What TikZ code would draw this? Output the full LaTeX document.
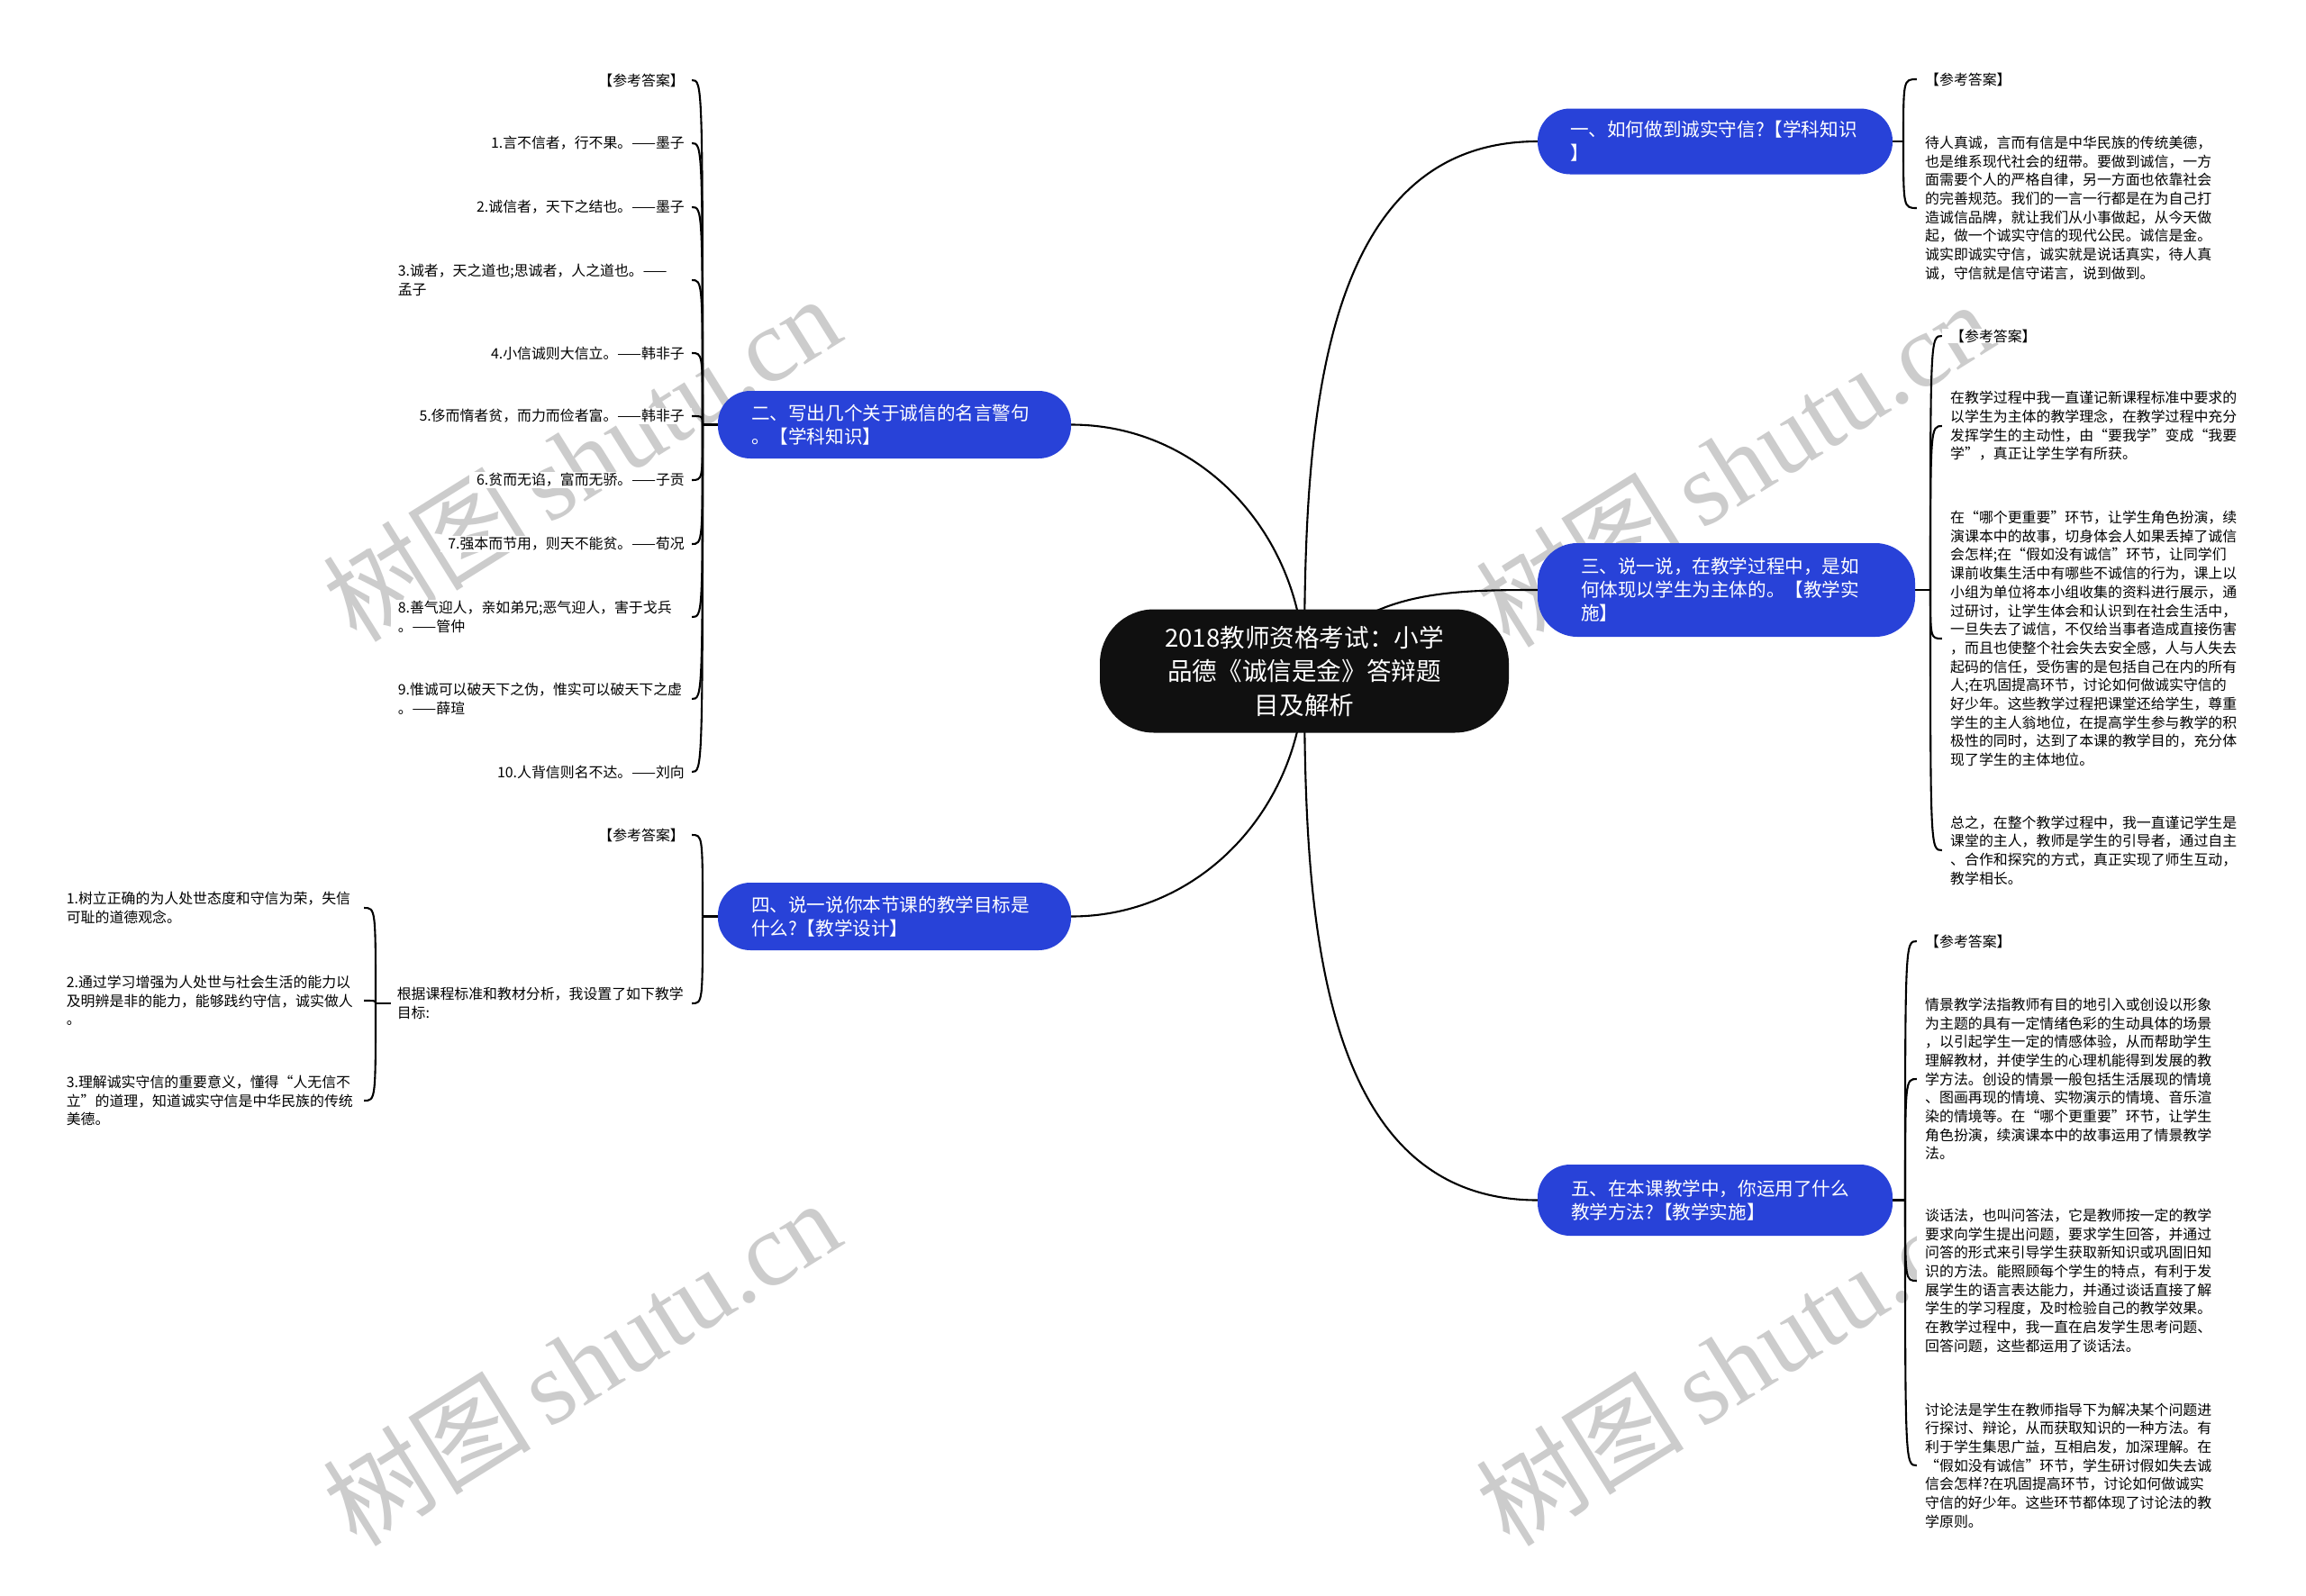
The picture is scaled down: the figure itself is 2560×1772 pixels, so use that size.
\documentclass[tikz,border=0pt]{standalone}
\usepackage{fontspec}
\setmainfont{Noto Sans CJK SC}
\newfontfamily\wmserif{Liberation Serif}
\usetikzlibrary{backgrounds}
\definecolor{bnode}{RGB}{40,66,216}
\definecolor{tnode}{RGB}{16,16,16}
\definecolor{wmgray}{RGB}{204,204,204}
\setlength{\parindent}{0pt}
\tikzset{
  conn/.style={line width=2.1pt, black},
  bkt/.style={to path={.. controls (\tikztostart|-\tikztotarget) .. (\tikztotarget)}},
  titlenode/.style={fill=tnode, text=white, rounded corners=60pt, minimum width=454pt, minimum height=137pt, text width=420pt, align=center, inner xsep=17pt, inner ysep=0pt, font=\fontsize{27.6}{37.5}\selectfont},
  branchnode/.style={fill=bnode, text=white, rounded corners=36pt, inner ysep=0pt, align=left, font=\fontsize{20.6}{26}\selectfont},
  rtxt/.style={anchor=west, fill=white, inner xsep=9pt, inner ysep=1pt, align=left, text width=330pt, font=\fontsize{15.9}{20.7}\selectfont},
  ltxt/.style={anchor=east, fill=white, inner xsep=8pt, inner ysep=1pt, font=\fontsize{15.9}{20.7}\selectfont},
  lpar/.style={ltxt, text width=318pt, align=left},
  wm/.style={text=wmgray, rotate=32, inner sep=0pt, font=\fontsize{116}{118}\selectfont}
}
\begin{document}
\begin{tikzpicture}[x=1pt,y=-1pt]
\useasboundingbox (0,0) rectangle (2560,1772);

% ---------- central node ----------
\node[titlenode] (title) at (1448,745) {2018教师资格考试：小学\\品德《诚信是金》答辩题\\目及解析};

% ---------- branch nodes ----------
\node[branchnode, minimum width=394pt, minimum height=73pt, text width=322pt, inner xsep=36pt] (n1) at (1904,157) {一、如何做到诚实守信?【学科知识\\】};
\node[branchnode, minimum width=419pt, minimum height=104pt, text width=323pt, inner xsep=48pt, rounded corners=44pt] (n3) at (1916.5,655) {三、说一说，在教学过程中，是如\\何体现以学生为主体的。【教学实\\施】};
\node[branchnode, minimum width=394pt, minimum height=79pt, text width=320pt, inner xsep=37pt] (n5) at (1904,1332.5) {五、在本课教学中，你运用了什么\\教学方法?【教学实施】};
\node[branchnode, minimum width=392pt, minimum height=75pt, text width=318pt, inner xsep=37pt] (n2) at (993,471.5) {二、写出几个关于诚信的名言警句\\。【学科知识】};
\node[branchnode, minimum width=392pt, minimum height=75pt, text width=318pt, inner xsep=37pt] (n4) at (993,1017.5) {四、说一说你本节课的教学目标是\\什么?【教学设计】};

% ---------- group 一 ----------
\coordinate (J1) at (2113,157);
\node[rtxt] (a11) at (2128,88) {【参考答案】};
\node[rtxt] (a12) at (2128,231) {待人真诚，言而有信是中华民族的传统美德，\\也是维系现代社会的纽带。要做到诚信，一方\\面需要个人的严格自律，另一方面也依靠社会\\的完善规范。我们的一言一行都是在为自己打\\造诚信品牌，就让我们从小事做起，从今天做\\起，做一个诚实守信的现代公民。诚信是金。\\诚实即诚实守信，诚实就是说话真实，待人真\\诚，守信就是信守诺言，说到做到。};

% ---------- group 三 ----------
\coordinate (J3) at (2143,655);
\node[rtxt] (b1) at (2156,373) {【参考答案】};
\node[rtxt] (b2) at (2156,473) {在教学过程中我一直谨记新课程标准中要求的\\以学生为主体的教学理念，在教学过程中充分\\发挥学生的主动性，由“要我学”变成“我要\\学”，真正让学生学有所获。};
\node[rtxt] (b3) at (2156,709) {在“哪个更重要”环节，让学生角色扮演，续\\演课本中的故事，切身体会人如果丢掉了诚信\\会怎样;在“假如没有诚信”环节，让同学们\\课前收集生活中有哪些不诚信的行为，课上以\\小组为单位将本小组收集的资料进行展示，通\\过研讨，让学生体会和认识到在社会生活中，\\一旦失去了诚信，不仅给当事者造成直接伤害\\，而且也使整个社会失去安全感，人与人失去\\起码的信任，受伤害的是包括自己在内的所有\\人;在巩固提高环节，讨论如何做诚实守信的\\好少年。这些教学过程把课堂还给学生，尊重\\学生的主人翁地位，在提高学生参与教学的积\\极性的同时，达到了本课的教学目的，充分体\\现了学生的主体地位。};
\node[rtxt] (b4) at (2156,944) {总之，在整个教学过程中，我一直谨记学生是\\课堂的主人，教师是学生的引导者，通过自主\\、合作和探究的方式，真正实现了师生互动，\\教学相长。};

% ---------- group 五 ----------
\coordinate (J5) at (2115,1332.5);
\node[rtxt] (c1) at (2128,1045) {【参考答案】};
\node[rtxt] (c2) at (2128,1198) {情景教学法指教师有目的地引入或创设以形象\\为主题的具有一定情绪色彩的生动具体的场景\\，以引起学生一定的情感体验，从而帮助学生\\理解教材，并使学生的心理机能得到发展的教\\学方法。创设的情景一般包括生活展现的情境\\、图画再现的情境、实物演示的情境、音乐渲\\染的情境等。在“哪个更重要”环节，让学生\\角色扮演，续演课本中的故事运用了情景教学\\法。};
\node[rtxt] (c3) at (2128,1422) {谈话法，也叫问答法，它是教师按一定的教学\\要求向学生提出问题，要求学生回答，并通过\\问答的形式来引导学生获取新知识或巩固旧知\\识的方法。能照顾每个学生的特点，有利于发\\展学生的语言表达能力，并通过谈话直接了解\\学生的学习程度，及时检验自己的教学效果。\\在教学过程中，我一直在启发学生思考问题、\\回答问题，这些都运用了谈话法。};
\node[rtxt] (c4) at (2128,1627) {讨论法是学生在教师指导下为解决某个问题进\\行探讨、辩论，从而获取知识的一种方法。有\\利于学生集思广益，互相启发，加深理解。在\\“假如没有诚信”环节，学生研讨假如失去诚\\信会怎样?在巩固提高环节，讨论如何做诚实\\守信的好少年。这些环节都体现了讨论法的教\\学原则。};

% ---------- group 二 ----------
\coordinate (J2) at (780,471.5);
\node[ltxt] (q0) at (768,89) {【参考答案】};
\node[ltxt] (q1) at (768,159) {1.言不信者，行不果。——墨子};
\node[ltxt] (q2) at (768,230) {2.诚信者，天下之结也。——墨子};
\node[lpar] (q3) at (768,311) {3.诚者，天之道也;思诚者，人之道也。——\\孟子};
\node[ltxt] (q4) at (768,392) {4.小信诚则大信立。——韩非子};
\node[ltxt] (q5) at (768,462) {5.侈而惰者贫，而力而俭者富。——韩非子};
\node[ltxt] (q6) at (768,533) {6.贫而无谄，富而无骄。——子贡};
\node[ltxt] (q7) at (768,604) {7.强本而节用，则天不能贫。——荀况};
\node[lpar] (q8) at (768,685) {8.善气迎人，亲如弟兄;恶气迎人，害于戈兵\\。——管仲};
\node[lpar] (q9) at (768,776) {9.惟诚可以破天下之伪，惟实可以破天下之虚\\。——薛瑄};
\node[ltxt] (q10) at (768,857) {10.人背信则名不达。——刘向};

% ---------- group 四 ----------
\coordinate (J4) at (780,1017.5);
\node[ltxt] (r0) at (768,927) {【参考答案】};
\node[lpar, text width=320pt, inner xsep=7pt] (r1) at (768,1114) {根据课程标准和教材分析，我设置了如下教学\\目标:};
\coordinate (J6) at (417,1114);
\node[lpar, text width=320pt, inner xsep=10pt] (s1) at (404,1008) {1.树立正确的为人处世态度和守信为荣，失信\\可耻的道德观念。};
\node[lpar, text width=320pt, inner xsep=10pt] (s2) at (404,1111) {2.通过学习增强为人处世与社会生活的能力以\\及明辨是非的能力，能够践约守信，诚实做人\\。};
\node[lpar, text width=320pt, inner xsep=10pt] (s3) at (404,1222) {3.理解诚实守信的重要意义，懂得“人无信不\\立”的道理，知道诚实守信是中华民族的传统\\美德。};

\begin{scope}[on background layer]
  \fill[white] (0,0) rectangle (2560,1772);
  % watermarks
  \node[wm] (wm1) at (645,508) {树图\,{\wmserif shutu.cn}};
  \node[wm] (wm2) at (1925,514) {树图\,{\wmserif shutu.cn}};
  \node[wm] (wm3) at (645,1512) {树图\,{\wmserif shutu.cn}};
  \node[wm] (wm4) at (1925,1512) {树图\,{\wmserif shutu.cn}};
  % main connectors
  \draw[conn] (title.center) to[out=90,in=180] (n1.west);
  \draw[conn] (title.center) to[out=55,in=180] (n3.west);
  \draw[conn] (title.center) to[out=-90,in=180] (n5.west);
  \draw[conn] (title.center) to[out=90,in=0] (n2.east);
  \draw[conn] (title.center) to[out=-90,in=0] (n4.east);
  % brackets
  \draw[conn] (n1.east) -- (J1);
  \foreach \c in {a11,a12} \draw[conn] (J1) to[bkt] (\c.west);
  \draw[conn] (n3.east) -- (J3);
  \foreach \c in {b1,b2,b3,b4} \draw[conn] (J3) to[bkt] (\c.west);
  \draw[conn] (n5.east) -- (J5);
  \foreach \c in {c1,c2,c3,c4} \draw[conn] (J5) to[bkt] (\c.west);
  \draw[conn] (n2.west) -- (J2);
  \foreach \c in {q0,q1,q2,q3,q4,q5,q6,q7,q8,q9,q10} \draw[conn] (J2) to[bkt] (\c.east);
  \draw[conn] (n4.west) -- (J4);
  \foreach \c in {r0,r1} \draw[conn] (J4) to[bkt] (\c.east);
  \draw[conn] (r1.west) -- (J6);
  \foreach \c in {s1,s2,s3} \draw[conn] (J6) to[bkt] (\c.east);
\end{scope}
\end{tikzpicture}
\end{document}
